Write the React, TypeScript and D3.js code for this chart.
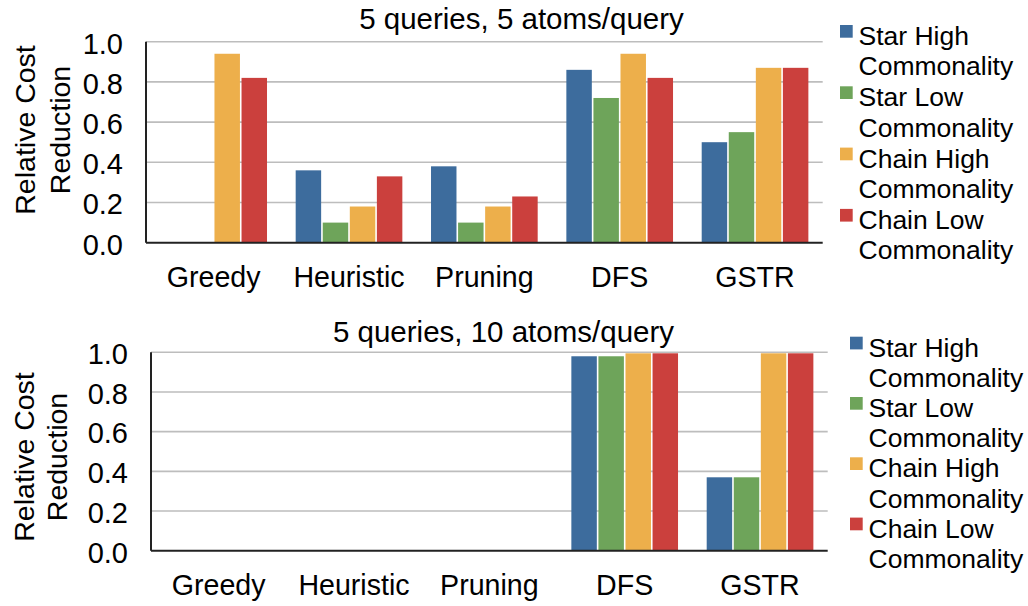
import React from "react";
import * as d3 from "d3";

const categories = ["Greedy", "Heuristic", "Pruning", "DFS", "GSTR"];
const seriesNames = [
  "Star High Commonality",
  "Star Low Commonality",
  "Chain High Commonality",
  "Chain Low Commonality",
];
const seriesColors = ["#3D6C9D", "#6EA45A", "#EDAF4B", "#CB403D"];
const yTicks = [0, 0.2, 0.4, 0.6, 0.8, 1.0];

// 5 queries, 5 atoms/query
const starHigh5 = [0, 0.36, 0.38, 0.86, 0.5];
const starLow5 = [0, 0.1, 0.1, 0.72, 0.55];
const chainHigh5 = [0.94, 0.18, 0.18, 0.94, 0.87];
const chainLow5 = [0.82, 0.33, 0.23, 0.82, 0.87];

// 5 queries, 10 atoms/query
const starHigh10 = [0, 0, 0, 0.98, 0.37];
const starLow10 = [0, 0, 0, 0.98, 0.37];
const chainHigh10 = [0, 0, 0, 0.995, 0.995];
const chainLow10 = [0, 0, 0, 0.995, 0.995];

const title5 = "5 queries, 5 atoms/query";
const title10 = "5 queries, 10 atoms/query";
const yLabelLines = ["Relative Cost", "Reduction"];

const FONT = "'Liberation Sans', Arial, Helvetica, sans-serif";

type PanelProps = {
  title: string;
  series: number[][];
  x0: number;
  x1: number;
  yTop: number;
  yBottom: number;
  titleX: number;
  titleY: number;
  labelX1: number;
  labelX2: number;
  labelCY: number;
  legendX: number;
  legendY: number;
  legendStep: number;
};

function Panel(p: PanelProps) {
  const x = d3.scaleBand<string>().domain(categories).range([p.x0, p.x1]).paddingInner(0.2).paddingOuter(0.1);
  const inner = d3.scaleBand<number>().domain(d3.range(seriesNames.length)).range([0, x.bandwidth()]).padding(0);
  const y = d3.scaleLinear().domain([0, 1]).range([p.yBottom, p.yTop]);
  const gap = 1.6;
  return (
    <g>
      <text x={p.titleX} y={p.titleY} textAnchor="middle" fontSize={29.5} fontFamily={FONT} fill="#000">
        {p.title}
      </text>
      {yTicks.filter((t) => t > 0).map((t) => (
        <line key={"g" + t} x1={p.x0} x2={p.x1} y1={y(t)} y2={y(t)} stroke="#BDBDBD" strokeWidth={1.6} />
      ))}
      {yTicks.map((t) => (
        <text key={"t" + t} x={p.x0 - 23} y={y(t) + 11.8} textAnchor="end" fontSize={29} fontFamily={FONT} fill="#000">
          {d3.format(".1f")(t)}
        </text>
      ))}
      {categories.map((c, ci) =>
        p.series.map((vals, si) => {
          const v = vals[ci];
          if (v <= 0) return null;
          return (
            <rect
              key={c + si}
              x={(x(c) as number) + (inner(si) as number) + gap / 2}
              y={y(v)}
              width={inner.bandwidth() - gap}
              height={y(0) - y(v)}
              fill={seriesColors[si]}
            />
          );
        })
      )}
      <line x1={p.x0} x2={p.x0} y1={p.yTop} y2={p.yBottom} stroke="#222" strokeWidth={2} />
      <line x1={p.x0} x2={p.x1} y1={p.yBottom} y2={p.yBottom} stroke="#222" strokeWidth={2} />
      {categories.map((c) => (
        <text key={"c" + c} x={(x(c) as number) + x.bandwidth() / 2} y={p.yBottom + 44} textAnchor="middle" fontSize={28.6} fontFamily={FONT} fill="#000">
          {c}
        </text>
      ))}
      <text transform={`translate(${p.labelX1},${p.labelCY}) rotate(-90)`} textAnchor="middle" fontSize={28.5} fontFamily={FONT} fill="#000">
        {yLabelLines[0]}
      </text>
      <text transform={`translate(${p.labelX2},${p.labelCY}) rotate(-90)`} textAnchor="middle" fontSize={28.5} fontFamily={FONT} fill="#000">
        {yLabelLines[1]}
      </text>
      {seriesNames.map((name, i) => {
        const idx = name.lastIndexOf(" ");
        const l1 = name.slice(0, idx);
        const l2 = name.slice(idx + 1);
        const top = p.legendY + i * p.legendStep;
        return (
          <g key={"l" + i}>
            <rect x={p.legendX} y={top} width={12.7} height={12.7} fill={seriesColors[i]} />
            <text x={p.legendX + 18.5} y={top + 20} fontSize={26.5} fontFamily={FONT} fill="#000">
              {l1}
            </text>
            <text x={p.legendX + 18.5} y={top + 50.3} fontSize={26.5} fontFamily={FONT} fill="#000">
              {l2}
            </text>
          </g>
        );
      })}
    </g>
  );
}

export default function App() {
  return (
    <svg width={1028} height={606} style={{ position: "absolute", left: 0, top: 0, background: "#fff" }}>
      <rect x={0} y={0} width={1028} height={606} fill="#fff" />
      <Panel
        title={title5}
        series={[starHigh5, starLow5, chainHigh5, chainLow5]}
        x0={146}
        x1={822.7}
        yTop={41.7}
        yBottom={242.7}
        titleX={521.5}
        titleY={29}
        labelX1={35}
        labelX2={69.5}
        labelCY={130}
        legendX={840}
        legendY={25}
        legendStep={61.3}
      />
      <Panel
        title={title10}
        series={[starHigh10, starLow10, chainHigh10, chainLow10]}
        x0={151}
        x1={827.7}
        yTop={352.3}
        yBottom={550.7}
        titleX={503.5}
        titleY={342}
        labelX1={33.5}
        labelX2={67}
        labelCY={457}
        legendX={850}
        legendY={336.7}
        legendStep={60.3}
      />
    </svg>
  );
}
